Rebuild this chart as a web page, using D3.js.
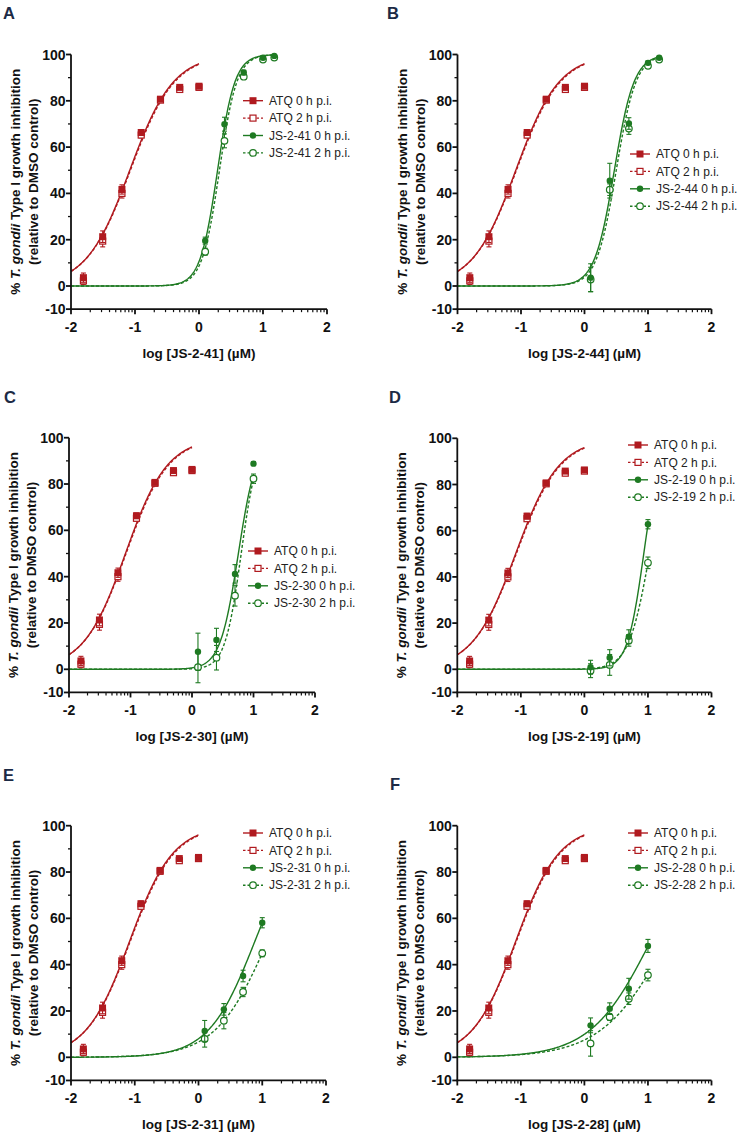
<!DOCTYPE html>
<html>
<head>
<meta charset="utf-8">
<script src="https://cdn.jsdelivr.net/npm/d3@7"></script>
<style>
  body { margin: 0; background: #fff; }
  svg { display: block; font-family: "Liberation Sans", Arial, sans-serif; }
</style>
</head>
<body>
<svg id="chart" width="741" height="1135"></svg>
<script>
// ---- data ----
const panelLetters = ["A", "B", "C", "D", "E", "F"];
const compounds = ["JS-2-41", "JS-2-44", "JS-2-30", "JS-2-19", "JS-2-31", "JS-2-28"];

const atqLogConc = [-1.806, -1.505, -1.204, -0.903, -0.602, -0.301, 0];
const atq0h = [3.6, 21.3, 41.7, 66.3, 80.7, 85.8, 86.3];
const atq0hErr = [2.0, 2.5, 2.0, 1.2, 1.0, 1.0, 1.0];
const atq2h = [2.2, 19.4, 40.0, 65.2, 80.3, 84.9, 85.8];
const atq2hErr = [1.5, 2.5, 2.0, 1.2, 1.0, 1.0, 1.0];
// fitted dose-response [logIC50, hill slope]
const atqFit0h = [-1.082, 1.276];
const atqFit2h = [-1.072, 1.262];

const jsLogConc = [
  [0.097, 0.398, 0.699, 1.0, 1.176],
  [0.097, 0.398, 0.699, 1.0, 1.176],
  [0.097, 0.398, 0.699, 1.0],
  [0.097, 0.398, 0.699, 1.0],
  [0.097, 0.398, 0.699, 1.0],
  [0.097, 0.398, 0.699, 1.0]
];
const js0h = [
  [19.6, 69.9, 92.2, 98.6, 99.4],
  [3.6, 45.5, 70.2, 96.4, 98.6],
  [7.6, 12.7, 41.2, 88.8],
  [0.9, 5.0, 14.1, 62.8],
  [11.4, 20.7, 35.1, 58.1],
  [13.8, 21.0, 29.6, 48.1]
];
const js0hErr = [
  [1.5, 3.0, 1.0, 0.8, 0.6],
  [6.0, 7.5, 2.5, 0.8, 0.6],
  [8.0, 5.0, 4.0, 0.8],
  [3.0, 3.5, 3.0, 2.0],
  [4.5, 2.5, 2.5, 2.2],
  [3.2, 2.5, 4.5, 2.8]
];
const js2h = [
  [14.8, 62.7, 90.4, 97.8, 98.7],
  [2.8, 41.6, 68.0, 95.1, 97.8],
  [0.9, 5.0, 31.8, 82.3],
  [-0.6, 1.9, 12.5, 46.1],
  [7.9, 15.8, 28.2, 44.9],
  [6.0, 17.4, 25.3, 35.5]
];
const js2hErr = [
  [1.5, 3.0, 1.0, 0.8, 0.6],
  [5.3, 2.5, 2.5, 0.8, 0.6],
  [6.7, 5.3, 4.5, 2.0],
  [3.0, 4.5, 2.5, 2.5],
  [3.5, 3.5, 2.0, 1.5],
  [5.5, 1.5, 2.5, 2.5]
];
const jsFit0h = [[0.29, 3.2], [0.47, 2.8], [0.754, 2.93], [0.934, 3.37], [0.883, 1.2], [1.04, 0.92]];
const jsFit2h = [[0.32, 3.2], [0.50, 2.8], [0.80, 3.3], [1.026, 2.65], [1.084, 1.06], [1.30, 0.84]];

const xTicks = [-2, -1, 0, 1, 2];
const yTicks = [-10, 0, 20, 40, 60, 80, 100];
const yMinorTicks = [10, 30, 50, 70, 90];

// ---- layout ----
const layout = [
  { lx: 3,   ly: 19,    left: 71,    right: 327,   top: 54.5,  zero: 286,    legX: 243, legY: 100.7 },
  { lx: 387, ly: 18.5,  left: 457.5, right: 711.5, top: 54.5,  zero: 286,    legX: 630, legY: 154 },
  { lx: 4,   ly: 402.7, left: 69,    right: 315,   top: 437.7, zero: 669.3,  legX: 248, legY: 551 },
  { lx: 389, ly: 402.7, left: 457.3, right: 711.5, top: 438.3, zero: 669.3,  legX: 628, legY: 445 },
  { lx: 3,   ly: 781,   left: 71,    right: 326,   top: 825.7, zero: 1057.3, legX: 243, legY: 833 },
  { lx: 390, ly: 790,   left: 457.3, right: 711.5, top: 825.7, zero: 1057.3, legX: 628, legY: 833 }
];

const red = "#b01a1f";
const green = "#1e7a22";
const ink = "#111";

const svg = d3.select("#chart");

function hill(x, fit) {
  return 100 / (1 + Math.pow(10, (fit[0] - x) * fit[1]));
}

function drawMarker(g, shape, filled, color, x, y) {
  if (shape === "square") {
    const s = filled ? 7 : 6;
    g.append("rect")
      .attr("x", x - s / 2).attr("y", y - s / 2)
      .attr("width", s).attr("height", s)
      .attr("fill", filled ? color : "#fff")
      .attr("stroke", color)
      .attr("stroke-width", filled ? 0 : 1.2);
  } else {
    g.append("circle")
      .attr("cx", x).attr("cy", y)
      .attr("r", filled ? 3.2 : 3.3)
      .attr("fill", filled ? color : "#fff")
      .attr("stroke", color)
      .attr("stroke-width", filled ? 0 : 1.2);
  }
}

function drawPanel(i) {
  const L = layout[i];
  const g = svg.append("g");

  const x = d3.scaleLinear().domain([-2, 2]).range([L.left, L.right]);
  const y = d3.scaleLinear().domain([0, 100]).range([L.zero, L.top]);
  const bottom = y(-10);

  // panel letter
  g.append("text")
    .attr("x", L.lx).attr("y", L.ly)
    .attr("font-size", 16.5).attr("font-weight", "bold")
    .attr("fill", "#1c2a45")
    .text(panelLetters[i]);

  const series = [
    { lx: atqLogConc, v: atq2h, e: atq2hErr, fit: atqFit2h, xEnd: 0, color: red, shape: "square", filled: false, dash: "3,2", label: "ATQ 2 h p.i." },
    { lx: atqLogConc, v: atq0h, e: atq0hErr, fit: atqFit0h, xEnd: 0, color: red, shape: "square", filled: true, dash: null, label: "ATQ 0 h p.i." },
    { lx: jsLogConc[i], v: js2h[i], e: js2hErr[i], fit: jsFit2h[i], xEnd: d3.max(jsLogConc[i]), color: green, shape: "circle", filled: false, dash: "3,2", label: compounds[i] + " 2 h p.i." },
    { lx: jsLogConc[i], v: js0h[i], e: js0hErr[i], fit: jsFit0h[i], xEnd: d3.max(jsLogConc[i]), color: green, shape: "circle", filled: true, dash: null, label: compounds[i] + " 0 h p.i." }
  ];

  const line = d3.line().x(d => x(d[0])).y(d => y(d[1]));

  // fitted curves
  series.forEach(s => {
    const pts = d3.range(-2, s.xEnd + 0.0001, 0.01).map(t => [t, hill(t, s.fit)]);
    g.append("path")
      .attr("d", line(pts))
      .attr("fill", "none")
      .attr("stroke", s.color)
      .attr("stroke-width", 1.4)
      .attr("stroke-dasharray", s.dash);
  });

  // error bars and markers
  series.forEach(s => {
    s.lx.forEach((c, k) => {
      const cx = x(c);
      const y1 = y(s.v[k] - s.e[k]);
      const y2 = y(s.v[k] + s.e[k]);
      g.append("line").attr("x1", cx).attr("x2", cx).attr("y1", y1).attr("y2", y2)
        .attr("stroke", s.color).attr("stroke-width", 1.1);
      [y1, y2].forEach(yy => {
        g.append("line").attr("x1", cx - 2.5).attr("x2", cx + 2.5).attr("y1", yy).attr("y2", yy)
          .attr("stroke", s.color).attr("stroke-width", 1.1);
      });
    });
    s.lx.forEach((c, k) => drawMarker(g, s.shape, s.filled, s.color, x(c), y(s.v[k])));
  });

  // axes
  const axes = g.append("g").attr("stroke", ink).attr("stroke-width", 1.8);
  axes.append("line").attr("x1", L.left).attr("x2", L.left).attr("y1", y(100)).attr("y2", bottom + 0.9);
  axes.append("line").attr("x1", L.left - 0.9).attr("x2", L.right).attr("y1", bottom).attr("y2", bottom);

  yTicks.forEach(t => {
    axes.append("line").attr("x1", L.left - 5).attr("x2", L.left).attr("y1", y(t)).attr("y2", y(t));
    g.append("text")
      .attr("x", L.left - 5.5).attr("y", y(t) + 5)
      .attr("text-anchor", "end")
      .attr("font-size", 14).attr("font-weight", "bold").attr("fill", ink)
      .text(t);
  });
  yMinorTicks.forEach(t => {
    axes.append("line").attr("x1", L.left - 3).attr("x2", L.left).attr("y1", y(t)).attr("y2", y(t))
      .attr("stroke-width", 1.3);
  });

  xTicks.forEach(t => {
    axes.append("line").attr("x1", x(t)).attr("x2", x(t)).attr("y1", bottom).attr("y2", bottom + 5);
    g.append("text")
      .attr("x", x(t)).attr("y", bottom + 23)
      .attr("text-anchor", "middle")
      .attr("font-size", 14).attr("font-weight", "bold").attr("fill", ink)
      .text(t);
  });
  xTicks.slice(0, -1).forEach(d => {
    d3.range(2, 10).forEach(k => {
      const xx = x(d + Math.log10(k));
      axes.append("line").attr("x1", xx).attr("x2", xx).attr("y1", bottom).attr("y2", bottom + 3)
        .attr("stroke-width", 1.2);
    });
  });

  // x axis title
  g.append("text")
    .attr("x", (L.left + L.right) / 2).attr("y", bottom + 49)
    .attr("text-anchor", "middle")
    .attr("font-size", 13.5).attr("font-weight", "bold").attr("fill", ink)
    .text(`log [${compounds[i]}] (\u00b5M)`);

  // y axis title
  const midY = (y(100) + bottom) / 2;
  const t1 = g.append("text")
    .attr("transform", `translate(${L.left - 51},${midY}) rotate(-90)`)
    .attr("text-anchor", "middle")
    .attr("font-size", 13.5).attr("font-weight", "bold").attr("fill", ink);
  t1.append("tspan").text("% ");
  t1.append("tspan").attr("font-style", "italic").text("T. gondii");
  t1.append("tspan").text(" Type I growth inhibition");
  g.append("text")
    .attr("transform", `translate(${L.left - 33},${midY}) rotate(-90)`)
    .attr("text-anchor", "middle")
    .attr("font-size", 13.5).attr("font-weight", "bold").attr("fill", ink)
    .text("(relative to DMSO control)");

  // legend
  const legendOrder = [series[1], series[0], series[3], series[2]];
  legendOrder.forEach((s, k) => {
    const ly = L.legY + k * 17.4;
    g.append("line")
      .attr("x1", L.legX).attr("x2", L.legX + 20).attr("y1", ly).attr("y2", ly)
      .attr("stroke", s.color).attr("stroke-width", 1.4)
      .attr("stroke-dasharray", s.dash ? "2.5,2" : null);
    drawMarker(g, s.shape, s.filled, s.color, L.legX + 10, ly);
    g.append("text")
      .attr("x", L.legX + 26).attr("y", ly + 4.2)
      .attr("font-size", 12).attr("fill", "#222")
      .text(s.label);
  });
}

panelLetters.forEach((_, i) => drawPanel(i));
</script>
</body>
</html>
